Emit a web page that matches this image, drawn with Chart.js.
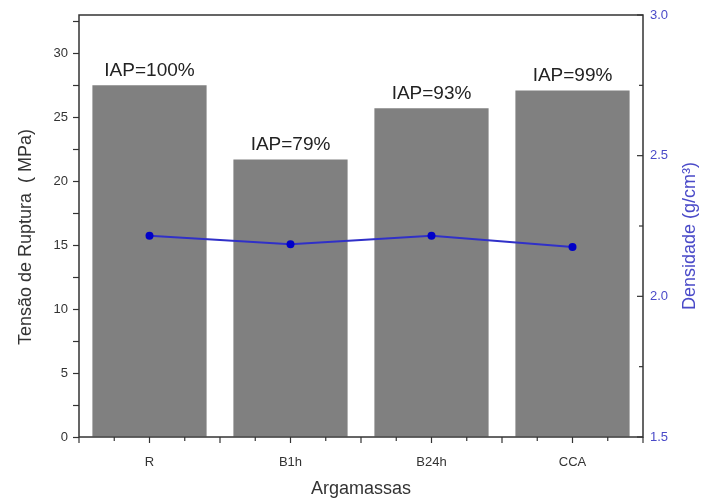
<!DOCTYPE html>
<html>
<head>
<meta charset="utf-8">
<script src="https://cdn.jsdelivr.net/npm/chart.js@4.4.1/dist/chart.umd.min.js"></script>
<style>
  html, body { margin: 0; padding: 0; background: #fff; }
  #wrap { width: 705px; height: 500px; }
</style>
</head>
<body>
<div id="wrap"><canvas id="grafico" width="705" height="500"></canvas></div>
<script>
const categorias = ['R', 'B1h', 'B24h', 'CCA'];
const tensao = [27.5, 21.7, 25.7, 27.1];          // MPa
const densidade = [2.215, 2.185, 2.215, 2.175];   // g/cm3
const rotulosIAP = ['IAP=100%', 'IAP=79%', 'IAP=93%', 'IAP=99%'];

const corEixo = '#333';
const corDens = '#4a4ac8';
const fonte = '"Liberation Sans", Arial, sans-serif';

function tituloVertical(ctx, texto, x, y, cor) {
    ctx.save();
    ctx.fillStyle = cor;
    ctx.font = '18px ' + fonte;
    ctx.translate(x, y);
    ctx.rotate(-Math.PI / 2);
    ctx.textAlign = 'center';
    ctx.textBaseline = 'middle';
    ctx.fillText(texto, 0, 0);
    ctx.restore();
}

// caixa, ticks dos eixos x e y1, rotulos IAP e titulos verticais
const extras = {
    id: 'extras',
    afterDatasetsDraw(chart) {
        const ctx = chart.ctx;
        const a = chart.chartArea;
        const y1 = chart.scales.y1;
        ctx.save();
        // rotulos acima das barras
        ctx.fillStyle = '#222';
        ctx.font = '19px ' + fonte;
        ctx.textAlign = 'center';
        ctx.textBaseline = 'bottom';
        chart.getDatasetMeta(1).data.forEach((bar, i) => {
            ctx.fillText(rotulosIAP[i], bar.x, bar.y - 5);
        });
        // moldura
        ctx.strokeStyle = corEixo;
        ctx.lineWidth = 1.5;
        ctx.strokeRect(a.left, a.top, a.right - a.left, a.bottom - a.top);
        // ticks do eixo x (a cada quarto de categoria)
        const passo = (a.right - a.left) / categorias.length / 4;
        ctx.lineWidth = 1.2;
        for (let k = 0; k <= categorias.length * 4; k++) {
            const px = a.left + k * passo;
            const len = (k % 2 === 0) ? 6 : 4;
            ctx.beginPath();
            ctx.moveTo(px, a.bottom);
            ctx.lineTo(px, a.bottom + len);
            ctx.stroke();
        }
        // ticks do eixo da direita, para dentro
        y1.ticks.forEach(t => {
            const py = y1.getPixelForValue(t.value);
            const len = (Math.abs(t.value * 2 - Math.round(t.value * 2)) < 1e-6) ? 6 : 4;
            ctx.beginPath();
            ctx.moveTo(a.right, py);
            ctx.lineTo(a.right - len, py);
            ctx.stroke();
        });
        ctx.restore();
        tituloVertical(ctx, 'Tensão de Ruptura  ( MPa)', 26, 237, '#333');
        tituloVertical(ctx, 'Densidade (g/cm³)', 690, 236, corDens);
    }
};

const ctx = document.getElementById('grafico').getContext('2d');
new Chart(ctx, {
    type: 'bar',
    data: {
        labels: categorias,
        datasets: [
            {
                type: 'line',
                label: 'Densidade',
                data: densidade,
                yAxisID: 'y1',
                borderColor: '#3030c8',
                borderWidth: 2,
                backgroundColor: '#0000c8',
                pointRadius: 4,
                pointBorderWidth: 0,
                order: 0
            },
            {
                label: 'Tensão de Ruptura',
                data: tensao,
                yAxisID: 'y',
                backgroundColor: '#808080',
                barPercentage: 0.81,
                categoryPercentage: 1,
                order: 1
            }
        ]
    },
    options: {
        responsive: false,
        animation: false,
        layout: { padding: { top: 15, left: 0, right: 0, bottom: 0 } },
        plugins: { legend: { display: false }, tooltip: { enabled: false } },
        scales: {
            x: {
                grid: { display: false },
                border: { display: false },
                ticks: { color: '#333', font: { size: 13, family: 'Liberation Sans' }, padding: 10 },
                title: { display: true, text: 'Argamassas', color: '#333', font: { size: 18, family: 'Liberation Sans' }, padding: { top: 0, bottom: 0 } },
                afterFit(s) { s.height = 63; }
            },
            y: {
                position: 'left',
                min: 0,
                max: 33,
                afterBuildTicks(s) {
                    s.ticks = [];
                    for (let v = 0; v <= 32.5; v += 2.5) s.ticks.push({ value: v });
                },
                ticks: {
                    color: '#333',
                    font: { size: 13, family: 'Liberation Sans' },
                    padding: 5,
                    callback: v => (v % 5 === 0 ? v : '')
                },
                grid: { drawOnChartArea: false, tickLength: 6, tickColor: corEixo, tickWidth: 1.2 },
                border: { display: false },
                afterFit(s) { s.width = 79; }
            },
            y1: {
                position: 'right',
                min: 1.5,
                max: 3.0,
                afterBuildTicks(s) {
                    s.ticks = [];
                    for (let v = 1.5; v <= 3.0001; v += 0.25) s.ticks.push({ value: +v.toFixed(2) });
                },
                ticks: {
                    color: corDens,
                    font: { size: 13, family: 'Liberation Sans' },
                    padding: 7,
                    callback: v => (Math.abs(v * 2 - Math.round(v * 2)) < 1e-6 ? v.toFixed(1) : '')
                },
                grid: { display: false, drawTicks: false },
                border: { display: false },
                afterFit(s) { s.width = 62; }
            }
        }
    },
    plugins: [extras]
});
</script>
</body>
</html>
